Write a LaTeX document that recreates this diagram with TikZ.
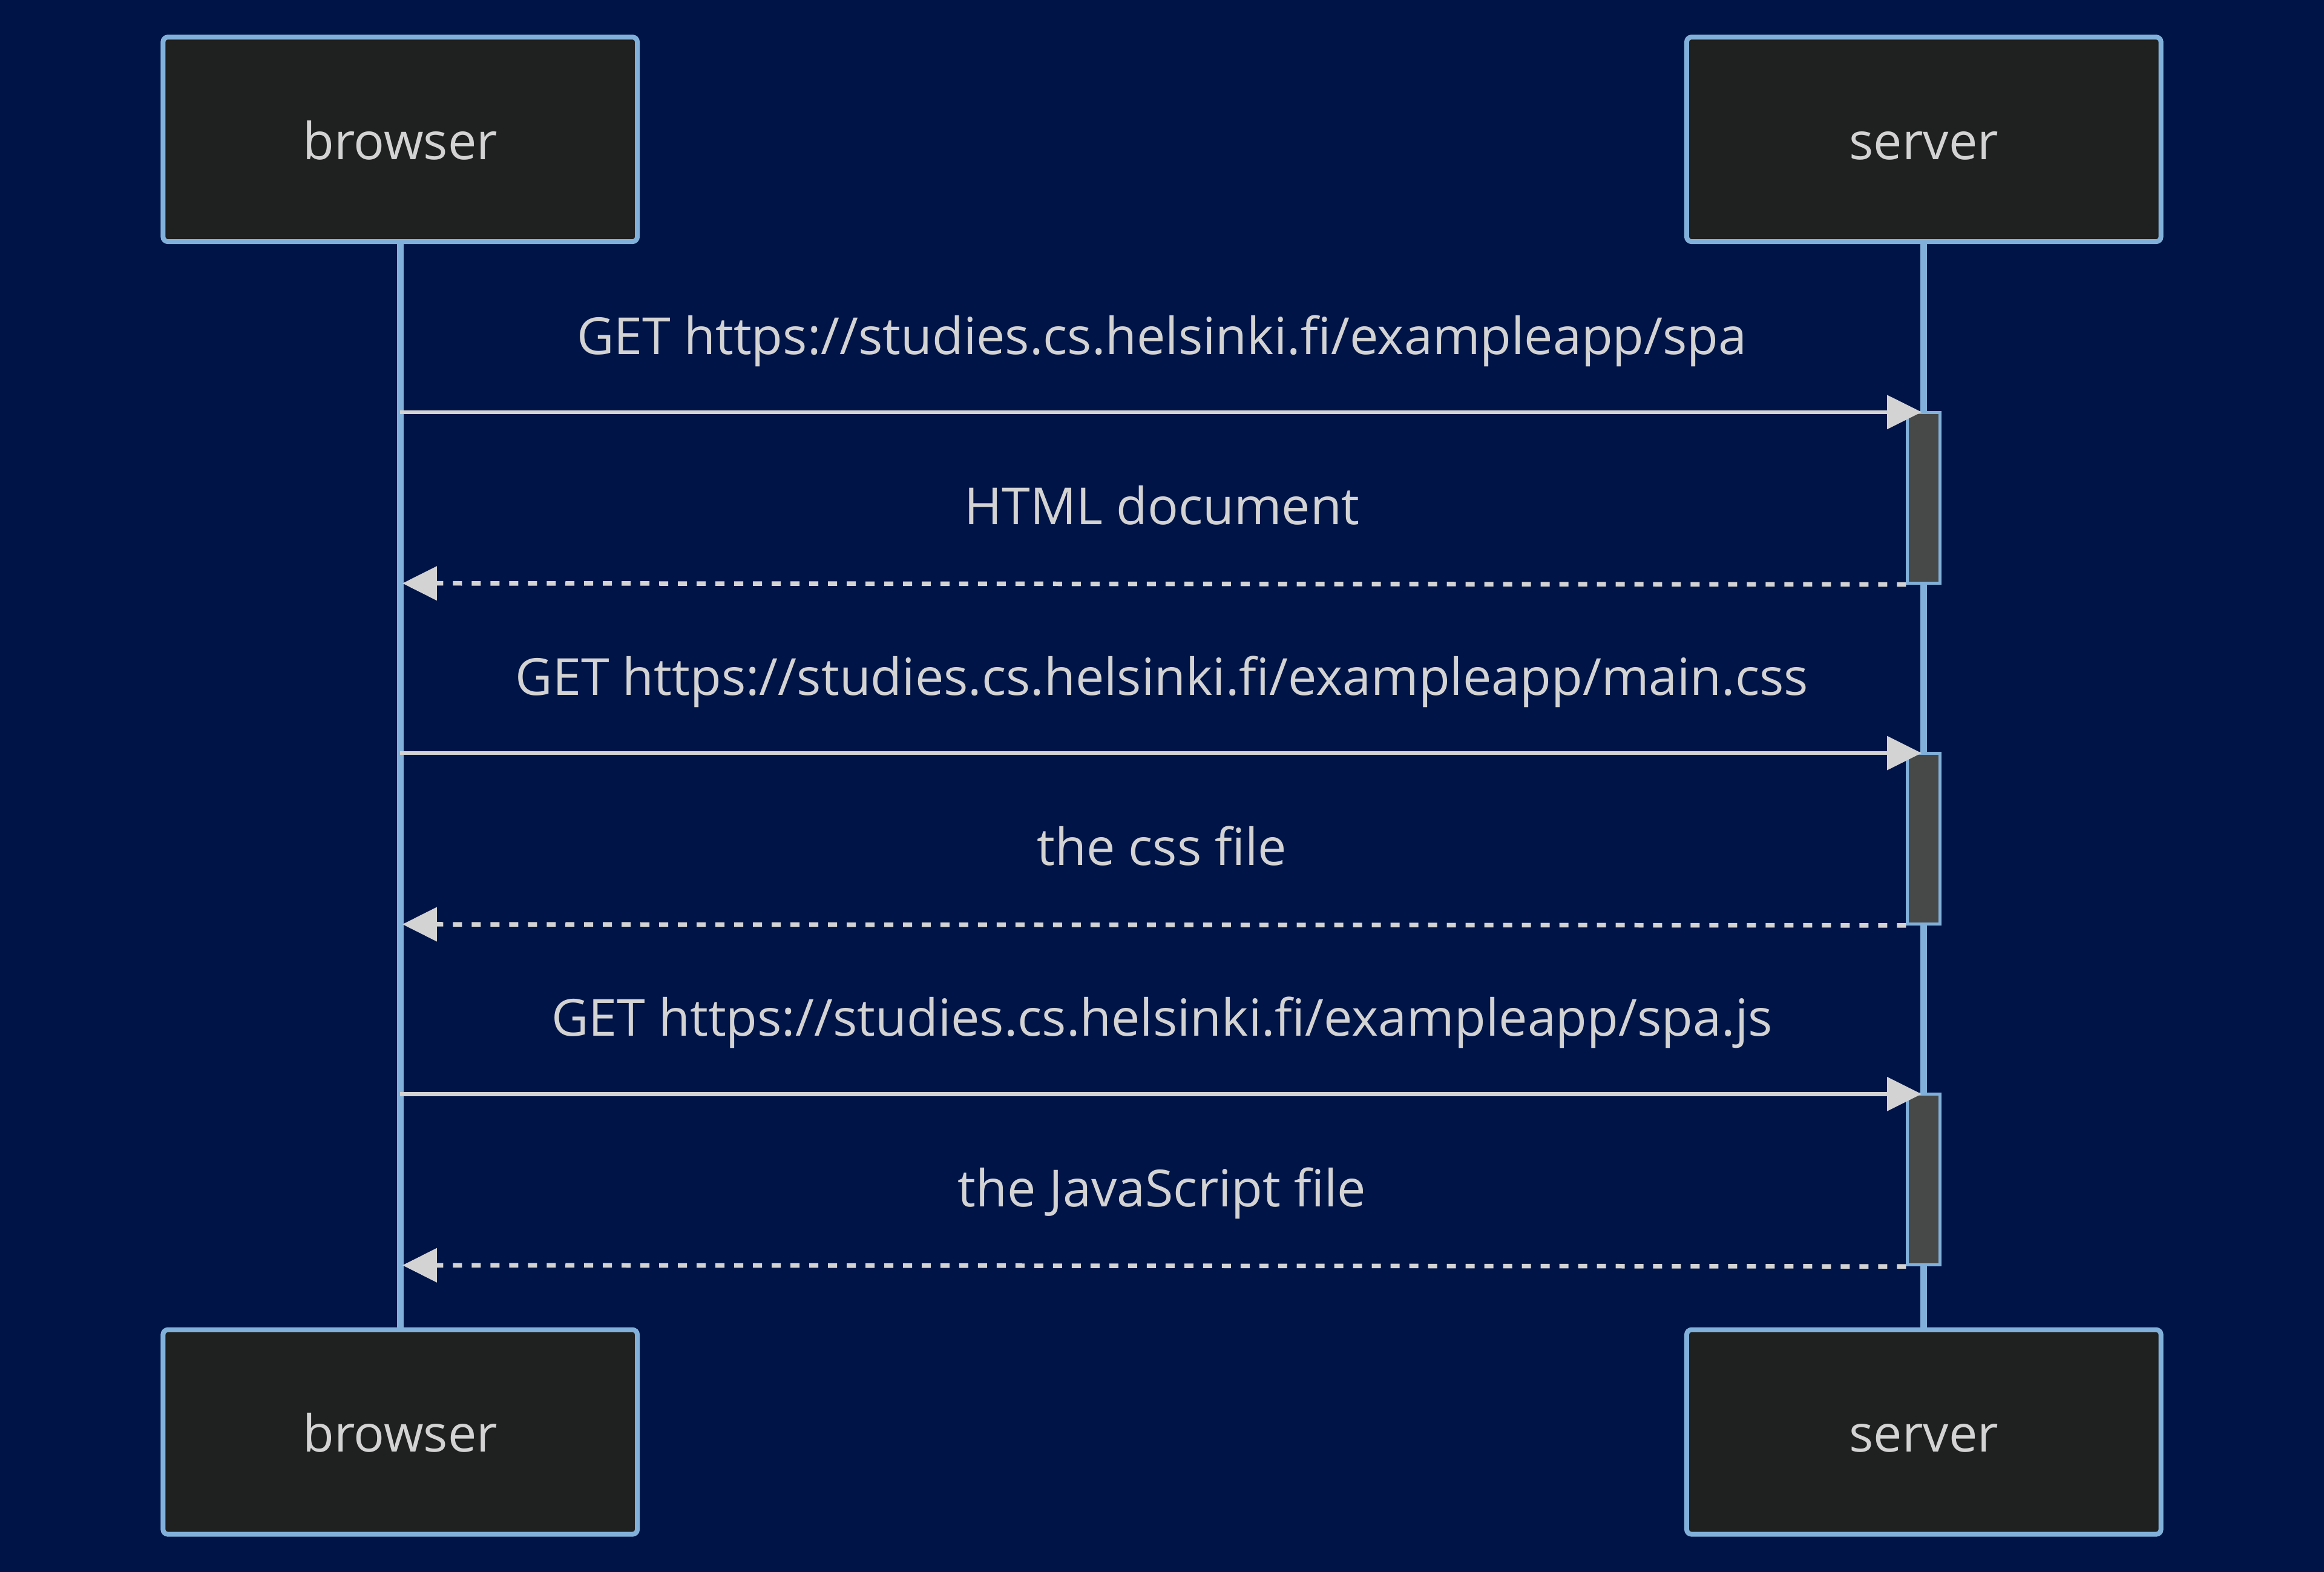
\documentclass[tikz,border=0pt]{standalone}
\usepackage{fontspec}
\setmainfont{Open Sans}
\usetikzlibrary{arrows.meta}
\definecolor{bg}{RGB}{0,20,72}
\definecolor{actfill}{HTML}{1F2020}
\definecolor{edge}{HTML}{81B1DB}
\definecolor{txt}{HTML}{D3D3D3}
\definecolor{actv}{HTML}{474949}
\tikzset{
  actor/.style={draw=edge, fill=actfill, line width=1.6pt, rounded corners=1.6pt,
    minimum width=156.8pt, minimum height=67.6pt, inner sep=0pt, text=txt,
    text height=13.14pt, text depth=0pt,
    font=\fontsize{16.9}{20}\selectfont},
  lifeline/.style={draw=edge, line width=2.2pt},
  actbox/.style={draw=edge, fill=actv, line width=1pt, minimum width=10.8pt,
    minimum height=56.4pt, inner sep=0pt},
  msglabel/.style={text=txt, font=\fontsize{16.9}{20}\selectfont, inner sep=0pt, anchor=base},
  msg/.style={draw=txt, line width=1.3pt, -{Triangle[length=11.4pt,width=11pt]}, txt},
  reply/.style={msg, line width=1.5pt, dash pattern=on 3pt off 3.2pt},
}
\begin{document}
\begin{tikzpicture}[x=0.49pt,y=-0.49pt]
\fill[bg] (0,0) rectangle (1568,1060.4);
\useasboundingbox (0,0) rectangle (1568,1060.4);

% actors and lifelines
\coordinate (btc) at (270,94);
\coordinate (stc) at (1298,94);
\coordinate (bbc) at (270,966);
\coordinate (sbc) at (1298,966);
\draw[lifeline] (btc) -- (bbc);
\draw[lifeline] (stc) -- (sbc);
\node[actor] (bt) at (btc) {browser};
\node[actor] (st) at (stc) {server};
\node[actor] (bb) at (bbc) {browser};
\node[actor] (sb) at (sbc) {server};

% activation boxes
\node[actbox] (a1) at (1298,335.7) {};
\node[actbox] (a2) at (1298,565.7) {};
\node[actbox] (a3) at (1298,795.7) {};

% lifeline coordinates
\coordinate (b1) at (270,278);
\coordinate (s1) at (1296.5,278);
\coordinate (b2) at (271.5,393.5);
\coordinate (b3) at (270,508);
\coordinate (s3) at (1296.5,508);
\coordinate (b4) at (271.5,623.5);
\coordinate (b5) at (270,738);
\coordinate (s5) at (1296.5,738);
\coordinate (b6) at (271.5,853.5);

% messages
\node[msglabel] (l1) at (784,238.9) {GET https://studies.cs.helsinki.fi/exampleapp/spa};
\draw[msg] (b1) -- (s1);
\node[msglabel] (l2) at (784,353.9) {HTML document};
\draw[reply] (a1.south west) -- (b2);
\node[msglabel] (l3) at (784,468.9) {GET https://studies.cs.helsinki.fi/exampleapp/main.css};
\draw[msg] (b3) -- (s3);
\node[msglabel] (l4) at (784,583.9) {the css file};
\draw[reply] (a2.south west) -- (b4);
\node[msglabel] (l5) at (784,698.9) {GET https://studies.cs.helsinki.fi/exampleapp/spa.js};
\draw[msg] (b5) -- (s5);
\node[msglabel] (l6) at (784,813.9) {the JavaScript file};
\draw[reply] (a3.south west) -- (b6);
\end{tikzpicture}
\end{document}
